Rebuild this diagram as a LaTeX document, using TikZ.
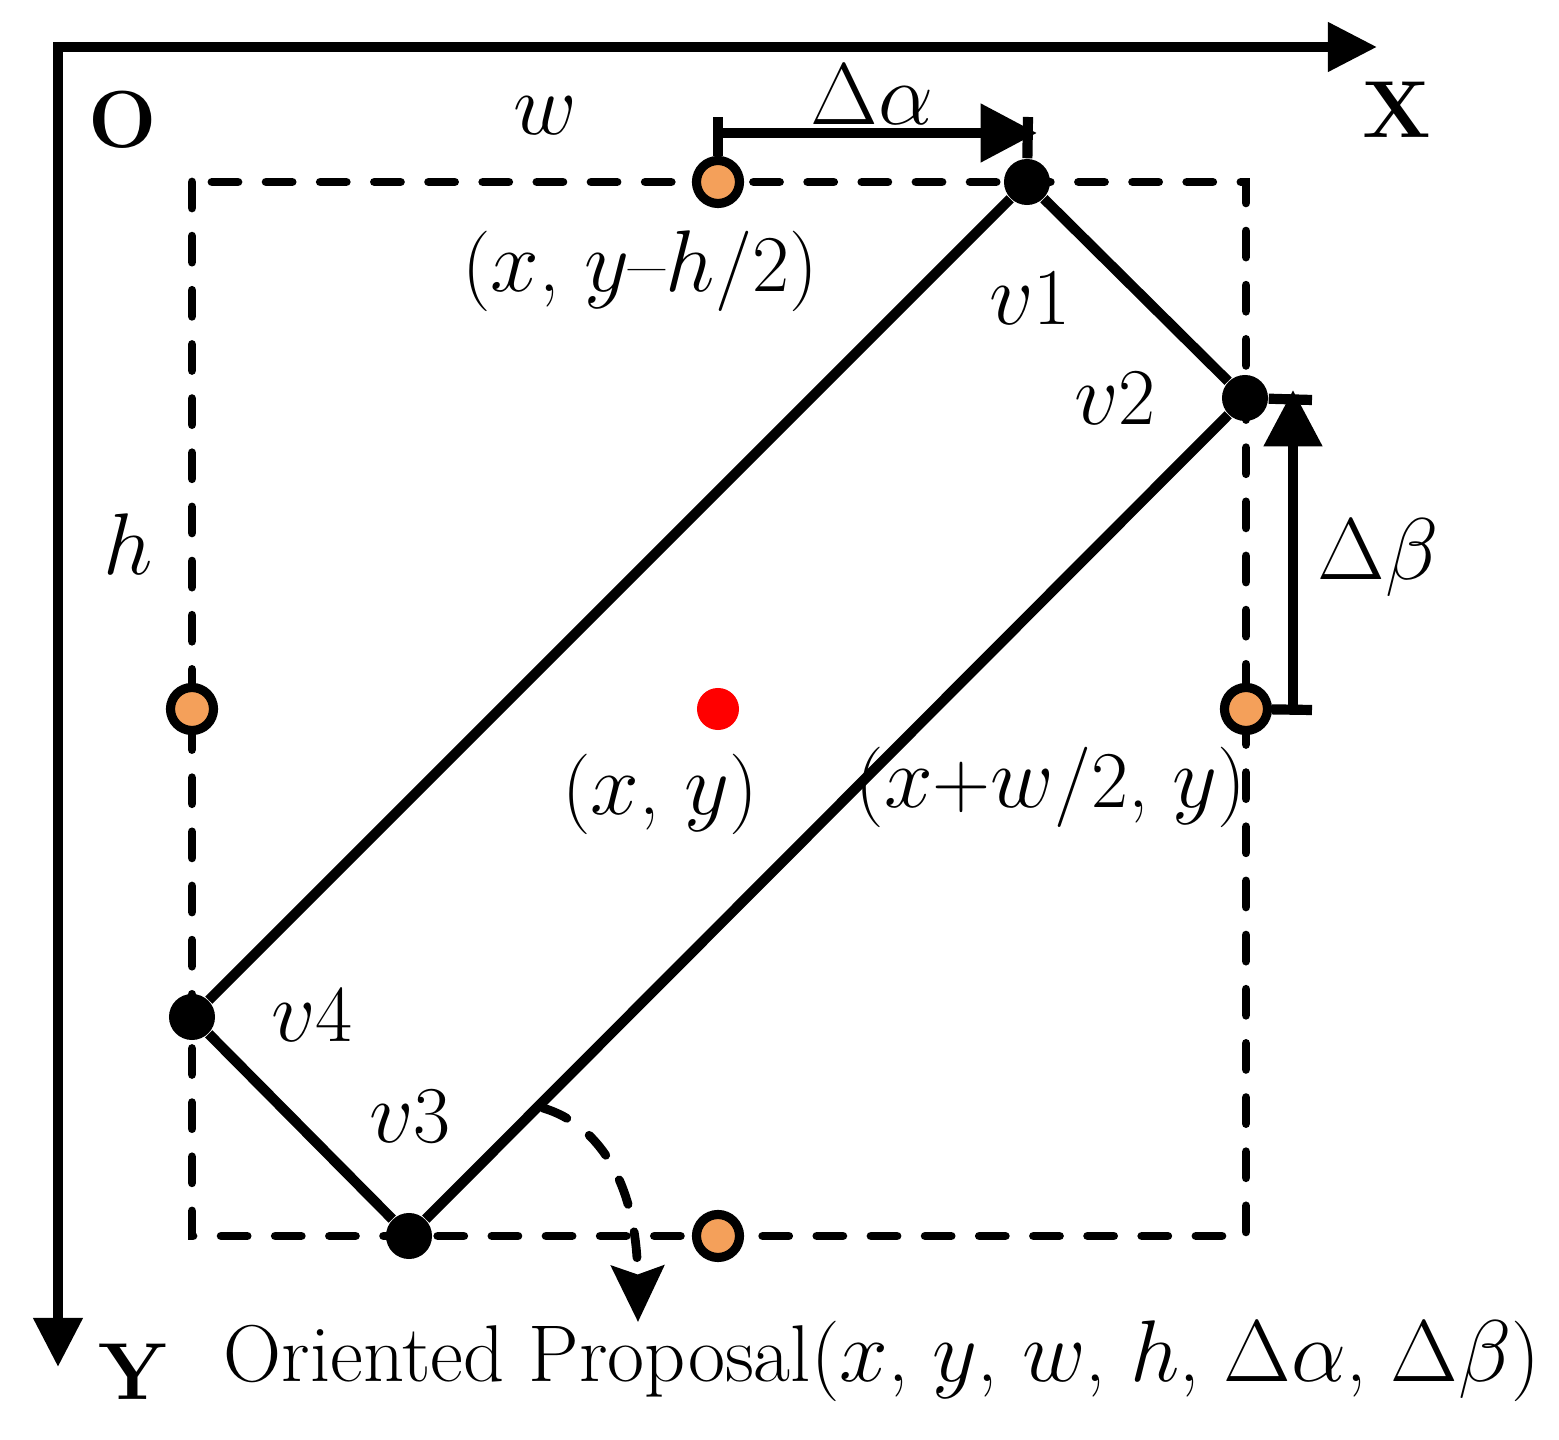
\documentclass[tikz,border=0pt]{standalone}
\usepackage{tikz}
\usepackage{xcolor}
\usetikzlibrary{arrows.meta, positioning}
\definecolor{dotorange}{RGB}{244,160,90}
\tikzstyle{axis} = [line width=2.8pt, miter limit=4,
{Triangle[length=14pt,width=13.5pt]}-{Triangle[length=14pt,width=13.5pt]}]
\tikzstyle{dashbox} = [line width=2.5pt, line cap=round, dash pattern=on 7.4pt off 8pt]
\tikzstyle{edge} = [line width=2.9pt]
\tikzstyle{darrow} = [line width=2.9pt, -{Triangle[length=16pt,width=16pt]}]
\tikzstyle{mid} = [circle, draw=black, fill=dotorange, line width=2.6pt, minimum size=0.43cm, inner sep=0pt]
\tikzstyle{vert} = [circle, fill=black, minimum size=0.46cm, inner sep=0pt]
\tikzstyle{lbl} = [font=\fontsize{22.9}{28}\selectfont, inner sep=0pt, anchor=base]
\tikzstyle{axlbl} = [font=\fontsize{23}{27}\selectfont\bfseries, inner sep=0pt, anchor=base]

\begin{document}
\begin{tikzpicture}[x=0.01cm, y=-0.01cm]
    \useasboundingbox (0,0) rectangle (1559,1440);

    % axes
    \coordinate (origin) at (58,47);
    \coordinate (xend) at (1377,47);
    \coordinate (yend) at (58,1367);
    \draw[axis] (xend) -- (origin) -- (yend);
    \node[axlbl] (olbl) at (123,148) {O};
    \node[axlbl] (xlbl) at (1397,138) {X};
    \node[axlbl] (ylbl) at (133,1400) {Y};

    % horizontal box
    \draw[dashbox] (192,182) rectangle (1246,1236);

    % points
    \node[mid] (ptop) at (718,182) {};
    \node[mid] (pleft) at (192,709) {};
    \node[mid] (pright) at (1246,709) {};
    \node[mid] (pbot) at (718,1236) {};
    \node[vert] (v1) at (1027,182) {};
    \node[vert] (v2) at (1245,398) {};
    \node[vert] (v3) at (409,1236) {};
    \node[vert] (v4) at (192,1017) {};
    \node[circle, fill=red, minimum size=0.42cm, inner sep=0pt] (ctr) at (718,709) {};

    % oriented box
    \draw[edge] (v1) -- (v2) -- (v3) -- (v4) -- (v1);

    % offset alpha
    \coordinate (ta1) at (718,117);
    \coordinate (ta2) at (1028,117);
    \coordinate (aa) at (718,133);
    \coordinate (ab) at (1037,133);
    \draw[edge] (ptop) -- (ta1);
    \draw[edge] (v1) -- (ta2);
    \draw[darrow] (aa) -- (ab);

    % offset beta
    \coordinate (tb1) at (1312,400);
    \coordinate (tb2) at (1312,710);
    \coordinate (ba) at (1293,710);
    \coordinate (bb) at (1293,390);
    \draw[edge] (v2) -- (tb1);
    \draw[edge] (pright) -- (tb2);
    \draw[darrow] (ba) -- (bb);

    % rotation
    \coordinate (rs) at (543,1108);
    \coordinate (re) at (638,1322);
    \draw[dashbox, -{Stealth[length=16pt,width=15pt,inset=2.5pt]}]
        (rs) .. controls (600,1125) and (637,1185) .. (re);

    % labels
    \node[lbl] (wlbl) at (545,135) {$w$};
    \node[lbl] (hlbl) at (128,575) {$h$};
    \node[lbl] (dalbl) at (872,125) {$\Delta\alpha$};
    \node[lbl] (dblbl) at (1378,580) {$\Delta\beta$};
    \node[lbl] (toplbl) at (640,292) {($x$, $y$--$h$/2)};
    \node[lbl] (ctrlbl) at (660,815) {($x$, $y$)};
    \node[lbl] (rightlbl) at (1051,808) {($x$+$w$/2, $y$)};
    \node[lbl] (v1lbl) at (1030,325) {$v$1};
    \node[lbl] (v2lbl) at (1115,425) {$v$2};
    \node[lbl] (v3lbl) at (410,1143) {$v$3};
    \node[lbl] (v4lbl) at (312,1042) {$v$4};
    \node[lbl] (title) at (882,1382) {Oriented Proposal($x$, $y$, $w$, $h$, $\Delta\alpha$, $\Delta\beta$)};
\end{tikzpicture}
\end{document}
